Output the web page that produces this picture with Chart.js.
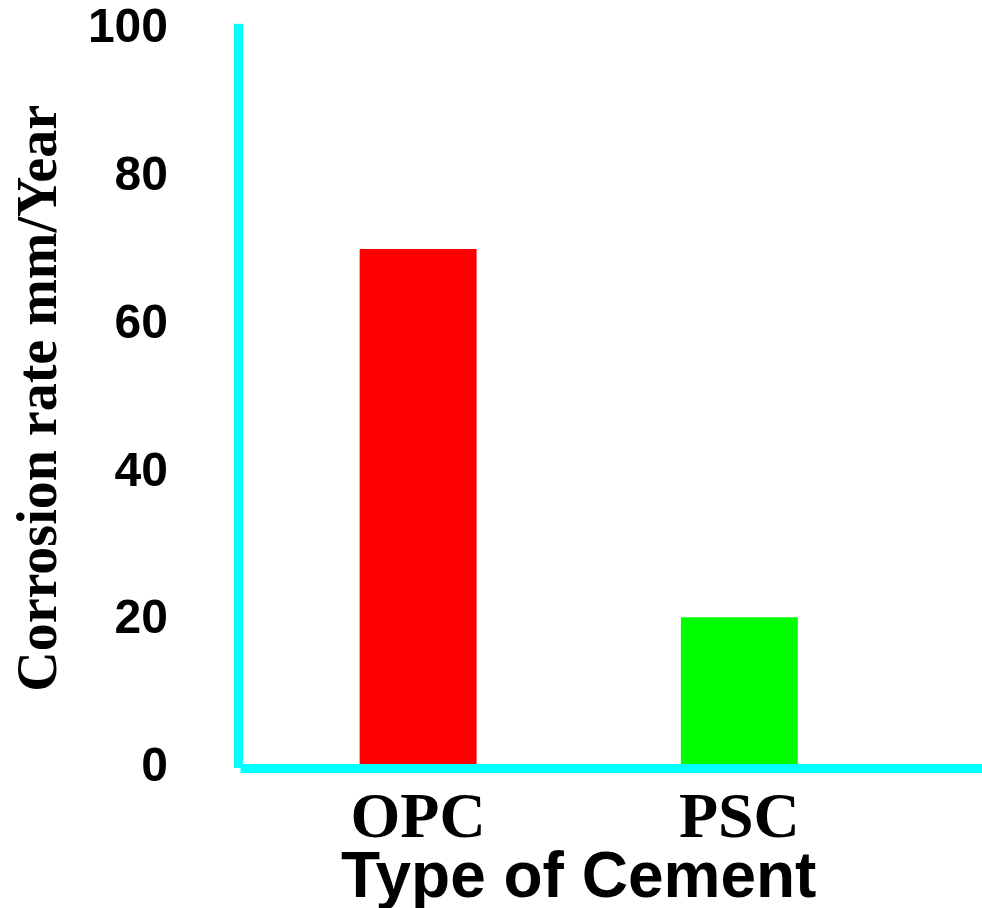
<!DOCTYPE html>
<html lang="en">
<head>
    <meta charset="UTF-8">
    <title>Corrosion rate</title>
    <script src="https://cdn.jsdelivr.net/npm/chart.js"></script>
    <style>
        body { margin: 0; background: #fff; }
    </style>
</head>
<body>
    <canvas id="corrChart" width="982" height="908"></canvas>
    <script>
        const cementTypes = ['OPC', 'PSC'];
        const corrosionRate = [70.2, 20.4];
        const barColors = ['#ff0000', '#00ff00'];
        const yTicks = [0, 20, 40, 60, 80, 100];

        // cyan axis lines, drawn a bit left of the plot like the original
        const axisLines = {
            id: 'axisLines',
            afterDraw(chart) {
                const { ctx, chartArea } = chart;
                const x0 = chartArea.left - 19;
                const y0 = chart.scales.y.getPixelForValue(0);
                ctx.save();
                ctx.fillStyle = '#00ffff';
                ctx.fillRect(x0 - 4.5, chartArea.top - 5, 9, y0 - chartArea.top + 5);
                ctx.fillRect(x0 + 2, y0 - 4, chart.width - x0, 9);
                ctx.restore();
            }
        };

        const ctx = document.getElementById('corrChart').getContext('2d');
        new Chart(ctx, {
            type: 'bar',
            data: {
                labels: cementTypes,
                datasets: [{
                    data: corrosionRate,
                    backgroundColor: barColors,
                    categoryPercentage: 0.364,
                    barPercentage: 1
                }]
            },
            options: {
                responsive: false,
                animation: false,
                layout: { padding: { top: 0, right: 82, left: 8, bottom: 0 } },
                plugins: {
                    legend: { display: false },
                    tooltip: { enabled: false }
                },
                scales: {
                    x: {
                        grid: { display: false, drawTicks: false },
                        border: { display: false },
                        afterFit(scale) { scale.height = 140; },
                        ticks: {
                            color: '#000',
                            padding: 14,
                            maxRotation: 0,
                            minRotation: 0,
                            autoSkip: false,
                            font: { family: 'Liberation Serif', size: 64, weight: 'bold' }
                        },
                        title: {
                            display: true,
                            text: 'Type of Cement',
                            color: '#000',
                            padding: { top: 0, bottom: -10 },
                            font: { family: 'Liberation Sans', size: 64, weight: 'bold' }
                        }
                    },
                    y: {
                        min: 0,
                        max: 100,
                        // invisible long tick marks push the labels away from the plot
                        grid: {
                            display: true,
                            drawOnChartArea: false,
                            drawTicks: true,
                            tickLength: 89.5,
                            color: 'rgba(0,0,0,0)'
                        },
                        border: { display: false },
                        afterFit(scale) { scale.width = 249.5; },
                        afterBuildTicks(scale) {
                            scale.ticks = yTicks.map(v => ({ value: v }));
                        },
                        ticks: {
                            color: '#000',
                            padding: 0,
                            font: { family: 'Liberation Sans', size: 48, weight: 'bold' }
                        },
                        title: {
                            display: true,
                            text: 'Corrosion rate mm/Year',
                            color: '#000',
                            padding: { top: 0, bottom: 0 },
                            font: { family: 'Liberation Serif', size: 56, weight: 'bold' }
                        }
                    }
                }
            },
            plugins: [axisLines]
        });
    </script>
</body>
</html>
